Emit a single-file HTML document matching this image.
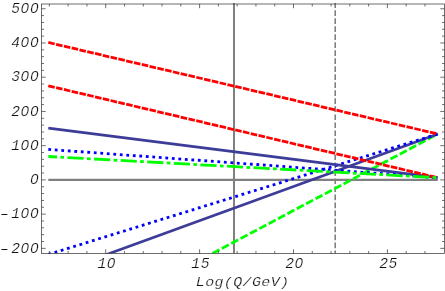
<!DOCTYPE html>
<html><head><meta charset="utf-8"><title>plot</title>
<style>html,body{margin:0;padding:0;background:#fff;}svg{display:block;will-change:transform;}text{font-family:"Liberation Mono",monospace;font-style:italic;fill:#111;}</style></head><body>
<svg width="445" height="291" viewBox="0 0 445 291">
<rect width="445" height="291" fill="#fff"/>
<defs><clipPath id="c"><rect x="41.5" y="3.0" width="403.0" height="250.5"/></clipPath></defs>
<g clip-path="url(#c)" fill="none" stroke-linecap="butt">
<line x1="48.30" y1="179.90" x2="437.80" y2="179.90" stroke="#808080" stroke-width="2.1"/>
<line x1="234.00" y1="3.00" x2="234.00" y2="253.50" stroke="#808080" stroke-width="2.0"/>
<line x1="335.20" y1="2.24" x2="335.20" y2="253.50" stroke="#808080" stroke-width="1.6" stroke-dasharray="5.65 2.36" stroke-dashoffset="0"/>
<line x1="200.00" y1="260.07" x2="437.80" y2="134.00" stroke="#00ff00" stroke-width="2.8" stroke-dasharray="7.85 2.75" stroke-dashoffset="7.06"/>
<line x1="100.00" y1="256.92" x2="437.80" y2="134.00" stroke="#3d3d99" stroke-width="2.7"/>
<line x1="48.30" y1="254.45" x2="437.80" y2="134.00" stroke="#0000ff" stroke-width="2.8" stroke-dasharray="2.8 3.724" stroke-dashoffset="0"/>
<line x1="48.30" y1="42.48" x2="436.50" y2="133.70" stroke="#ff0000" stroke-width="2.8" stroke-dasharray="6.6 1.4" stroke-dashoffset="0"/>
<line x1="48.30" y1="128.10" x2="437.80" y2="177.70" stroke="#3d3d99" stroke-width="2.7"/>
<line x1="48.30" y1="149.40" x2="437.80" y2="177.70" stroke="#0000ff" stroke-width="2.8" stroke-dasharray="2.8 3.72" stroke-dashoffset="0"/>
<line x1="48.30" y1="85.80" x2="436.50" y2="177.40" stroke="#ff0000" stroke-width="2.8" stroke-dasharray="6.6 1.4" stroke-dashoffset="0"/>
<line x1="48.30" y1="156.50" x2="437.80" y2="177.70" stroke="#00ff00" stroke-width="2.8" stroke-dasharray="16.25 3.33 3.7 3.34" stroke-dashoffset="7.45"/>
</g>
<g stroke="#303030" stroke-width="0.7" fill="none">
<rect x="41.5" y="4.0" width="403.0" height="249.5"/>
<path d="M41.5 248.36h4.2 M444.5 248.36h-4.2"/>
<path d="M41.5 241.51h2.5 M444.5 241.51h-2.5"/>
<path d="M41.5 234.67h2.5 M444.5 234.67h-2.5"/>
<path d="M41.5 227.82h2.5 M444.5 227.82h-2.5"/>
<path d="M41.5 220.98h2.5 M444.5 220.98h-2.5"/>
<path d="M41.5 214.13h4.2 M444.5 214.13h-4.2"/>
<path d="M41.5 207.28h2.5 M444.5 207.28h-2.5"/>
<path d="M41.5 200.44h2.5 M444.5 200.44h-2.5"/>
<path d="M41.5 193.59h2.5 M444.5 193.59h-2.5"/>
<path d="M41.5 186.75h2.5 M444.5 186.75h-2.5"/>
<path d="M41.5 179.90h4.2 M444.5 179.90h-4.2"/>
<path d="M41.5 173.05h2.5 M444.5 173.05h-2.5"/>
<path d="M41.5 166.21h2.5 M444.5 166.21h-2.5"/>
<path d="M41.5 159.36h2.5 M444.5 159.36h-2.5"/>
<path d="M41.5 152.52h2.5 M444.5 152.52h-2.5"/>
<path d="M41.5 145.67h4.2 M444.5 145.67h-4.2"/>
<path d="M41.5 138.82h2.5 M444.5 138.82h-2.5"/>
<path d="M41.5 131.98h2.5 M444.5 131.98h-2.5"/>
<path d="M41.5 125.13h2.5 M444.5 125.13h-2.5"/>
<path d="M41.5 118.29h2.5 M444.5 118.29h-2.5"/>
<path d="M41.5 111.44h4.2 M444.5 111.44h-4.2"/>
<path d="M41.5 104.59h2.5 M444.5 104.59h-2.5"/>
<path d="M41.5 97.75h2.5 M444.5 97.75h-2.5"/>
<path d="M41.5 90.90h2.5 M444.5 90.90h-2.5"/>
<path d="M41.5 84.06h2.5 M444.5 84.06h-2.5"/>
<path d="M41.5 77.21h4.2 M444.5 77.21h-4.2"/>
<path d="M41.5 70.36h2.5 M444.5 70.36h-2.5"/>
<path d="M41.5 63.52h2.5 M444.5 63.52h-2.5"/>
<path d="M41.5 56.67h2.5 M444.5 56.67h-2.5"/>
<path d="M41.5 49.83h2.5 M444.5 49.83h-2.5"/>
<path d="M41.5 42.98h4.2 M444.5 42.98h-4.2"/>
<path d="M41.5 36.13h2.5 M444.5 36.13h-2.5"/>
<path d="M41.5 29.29h2.5 M444.5 29.29h-2.5"/>
<path d="M41.5 22.44h2.5 M444.5 22.44h-2.5"/>
<path d="M41.5 15.60h2.5 M444.5 15.60h-2.5"/>
<path d="M41.5 8.75h4.2 M444.5 8.75h-4.2"/>
<path d="M49.36 253.5v-2.5 M49.36 4.0v2.5"/>
<path d="M68.14 253.5v-2.5 M68.14 4.0v2.5"/>
<path d="M86.92 253.5v-2.5 M86.92 4.0v2.5"/>
<path d="M105.70 253.5v-4.2 M105.70 4.0v4.2"/>
<path d="M124.48 253.5v-2.5 M124.48 4.0v2.5"/>
<path d="M143.26 253.5v-2.5 M143.26 4.0v2.5"/>
<path d="M162.04 253.5v-2.5 M162.04 4.0v2.5"/>
<path d="M180.82 253.5v-2.5 M180.82 4.0v2.5"/>
<path d="M199.60 253.5v-4.2 M199.60 4.0v4.2"/>
<path d="M218.38 253.5v-2.5 M218.38 4.0v2.5"/>
<path d="M237.16 253.5v-2.5 M237.16 4.0v2.5"/>
<path d="M255.94 253.5v-2.5 M255.94 4.0v2.5"/>
<path d="M274.72 253.5v-2.5 M274.72 4.0v2.5"/>
<path d="M293.50 253.5v-4.2 M293.50 4.0v4.2"/>
<path d="M312.28 253.5v-2.5 M312.28 4.0v2.5"/>
<path d="M331.06 253.5v-2.5 M331.06 4.0v2.5"/>
<path d="M349.84 253.5v-2.5 M349.84 4.0v2.5"/>
<path d="M368.62 253.5v-2.5 M368.62 4.0v2.5"/>
<path d="M387.40 253.5v-4.2 M387.40 4.0v4.2"/>
<path d="M406.18 253.5v-2.5 M406.18 4.0v2.5"/>
<path d="M424.96 253.5v-2.5 M424.96 4.0v2.5"/>
</g>
<g transform="translate(1.85 252.56) scale(1.0 1)">
<text font-size="14.6" letter-spacing="0.6" stroke="#fff" stroke-width="0.2"><tspan x="-1.9">–</tspan><tspan x="9.36">200</tspan></text>
<ellipse cx="23.29" cy="-4.84" rx="1.6" ry="2.1" fill="#fff"/>
<ellipse cx="32.65" cy="-4.84" rx="1.6" ry="2.1" fill="#fff"/>
</g>
<g transform="translate(1.85 218.33) scale(1.0 1)">
<text font-size="14.6" letter-spacing="0.6" stroke="#fff" stroke-width="0.2"><tspan x="-1.9">–</tspan><tspan x="9.36">100</tspan></text>
<ellipse cx="23.29" cy="-4.84" rx="1.6" ry="2.1" fill="#fff"/>
<ellipse cx="32.65" cy="-4.84" rx="1.6" ry="2.1" fill="#fff"/>
</g>
<g transform="translate(29.94 184.10) scale(1.0 1)">
<text font-size="14.6" letter-spacing="0.6" stroke="#fff" stroke-width="0.2">0</text>
<ellipse cx="4.56" cy="-4.84" rx="1.6" ry="2.1" fill="#fff"/>
</g>
<g transform="translate(11.22 149.87) scale(1.0 1)">
<text font-size="14.6" letter-spacing="0.6" stroke="#fff" stroke-width="0.2">100</text>
<ellipse cx="13.92" cy="-4.84" rx="1.6" ry="2.1" fill="#fff"/>
<ellipse cx="23.29" cy="-4.84" rx="1.6" ry="2.1" fill="#fff"/>
</g>
<g transform="translate(11.22 115.64) scale(1.0 1)">
<text font-size="14.6" letter-spacing="0.6" stroke="#fff" stroke-width="0.2">200</text>
<ellipse cx="13.92" cy="-4.84" rx="1.6" ry="2.1" fill="#fff"/>
<ellipse cx="23.29" cy="-4.84" rx="1.6" ry="2.1" fill="#fff"/>
</g>
<g transform="translate(11.22 81.41) scale(1.0 1)">
<text font-size="14.6" letter-spacing="0.6" stroke="#fff" stroke-width="0.2">300</text>
<ellipse cx="13.92" cy="-4.84" rx="1.6" ry="2.1" fill="#fff"/>
<ellipse cx="23.29" cy="-4.84" rx="1.6" ry="2.1" fill="#fff"/>
</g>
<g transform="translate(11.22 47.18) scale(1.0 1)">
<text font-size="14.6" letter-spacing="0.6" stroke="#fff" stroke-width="0.2">400</text>
<ellipse cx="13.92" cy="-4.84" rx="1.6" ry="2.1" fill="#fff"/>
<ellipse cx="23.29" cy="-4.84" rx="1.6" ry="2.1" fill="#fff"/>
</g>
<g transform="translate(11.22 12.95) scale(1.0 1)">
<text font-size="14.6" letter-spacing="0.6" stroke="#fff" stroke-width="0.2">500</text>
<ellipse cx="13.92" cy="-4.84" rx="1.6" ry="2.1" fill="#fff"/>
<ellipse cx="23.29" cy="-4.84" rx="1.6" ry="2.1" fill="#fff"/>
</g>
<g transform="translate(97.44 267.80) scale(1.0 1)">
<text font-size="14.6" letter-spacing="0.6" stroke="#fff" stroke-width="0.2">10</text>
<ellipse cx="13.92" cy="-4.84" rx="1.6" ry="2.1" fill="#fff"/>
</g>
<g transform="translate(191.34 267.80) scale(1.0 1)">
<text font-size="14.6" letter-spacing="0.6" stroke="#fff" stroke-width="0.2">15</text>
</g>
<g transform="translate(285.24 267.80) scale(1.0 1)">
<text font-size="14.6" letter-spacing="0.6" stroke="#fff" stroke-width="0.2">20</text>
<ellipse cx="13.92" cy="-4.84" rx="1.6" ry="2.1" fill="#fff"/>
</g>
<g transform="translate(379.14 267.80) scale(1.0 1)">
<text font-size="14.6" letter-spacing="0.6" stroke="#fff" stroke-width="0.2">25</text>
</g>
<g transform="translate(195.78 286.30) scale(1.13 1)">
<text font-size="13.3" letter-spacing="0.3" stroke="#fff" stroke-width="0.2">Log(Q/GeV)</text>
</g>
</svg></body></html>
